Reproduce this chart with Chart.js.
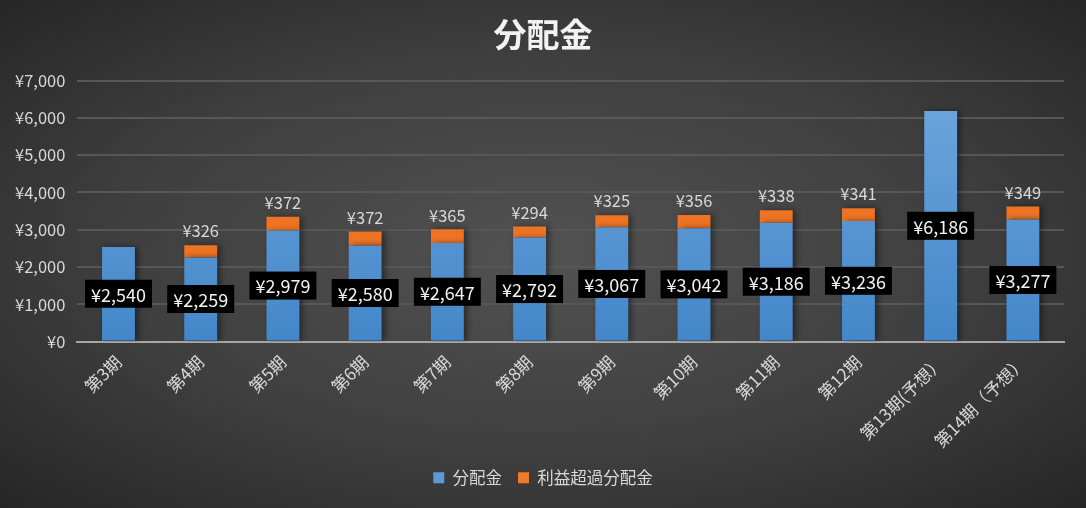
<!DOCTYPE html>
<html>
<head>
<meta charset="utf-8">
<script src="https://cdn.jsdelivr.net/npm/chart.js@4/dist/chart.umd.min.js"></script>
<style>
    html, body {
        margin: 0;
        padding: 0;
        width: 1086px;
        height: 508px;
        overflow: hidden;
    }
    body {
        background: radial-gradient(ellipse at 50% 50%, #525252 0%, #3f3f3f 55%, #262626 100%);
    }
    #wrap {
        position: relative;
        width: 1086px;
        height: 508px;
    }
</style>
</head>
<body>
<div id="wrap"><canvas id="distChart"></canvas></div>
<script>
// Chart data
const periods = ['第3期', '第4期', '第5期', '第6期', '第7期', '第8期', '第9期', '第10期', '第11期', '第12期', '第13期(予想）', '第14期（予想）'];
const distribution = [2540, 2259, 2979, 2580, 2647, 2792, 3067, 3042, 3186, 3236, 6186, 3277];
const excessDistribution = [null, 326, 372, 372, 365, 294, 325, 356, 338, 341, null, 349];
const yTicks = [0, 1000, 2000, 3000, 4000, 5000, 6000, 7000];

const FONT = '"Noto Sans CJK JP", "Noto Sans", sans-serif';
const TEXT = '#d9d9d9';

function yen(v) {
    return '¥' + Number(v).toLocaleString('en-US');
}

// vertical gradient across the chart area
function barGradient(top, bottom) {
    return function(context) {
        const chart = context.chart;
        const area = chart.chartArea;
        if (!area) return bottom;
        const g = chart.ctx.createLinearGradient(0, area.top, 0, area.bottom);
        g.addColorStop(0, top);
        g.addColorStop(1, bottom);
        return g;
    };
}

function orangeGradient(context) {
    const chart = context.chart;
    const el = context.element;
    if (!chart.chartArea || !el) return '#ee7424';
    const props = el.getProps(['y', 'base'], true);
    if (!isFinite(props.y) || !isFinite(props.base) || props.y === props.base) return '#ee7424';
    const g = chart.ctx.createLinearGradient(0, props.y, 0, props.base);
    g.addColorStop(0, '#f68b40');
    g.addColorStop(1, '#e96a17');
    return g;
}

// soft bar shadow
const barShadow = {
    id: 'barShadow',
    beforeDatasetDraw(chart) {
        const ctx = chart.ctx;
        ctx.save();
        ctx.shadowColor = 'rgba(0,0,0,0.45)';
        ctx.shadowBlur = 6;
        ctx.shadowOffsetX = 3;
        ctx.shadowOffsetY = 0;
    },
    afterDatasetDraw(chart) {
        chart.ctx.restore();
    }
};

// value labels
const valueLabels = {
    id: 'valueLabels',
    afterDatasetsDraw(chart) {
        const ctx = chart.ctx;
        ctx.save();
        ctx.textAlign = 'center';
        ctx.textBaseline = 'middle';

        // blue segment: black box in the middle of the bar
        const blue = chart.getDatasetMeta(0);
        ctx.font = '18px ' + FONT;
        blue.data.forEach(function(bar, i) {
            const v = distribution[i];
            if (v == null) return;
            const text = yen(v);
            const cy = (bar.y + bar.base) / 2;
            const w = ctx.measureText(text).width + 12;
            const h = 28;
            ctx.fillStyle = '#000000';
            ctx.fillRect(bar.x - w / 2, cy - h / 2, w, h);
            ctx.fillStyle = '#f2f2f2';
            ctx.fillText(text, bar.x, cy + 1);
        });

        // orange segment: text above the bar
        const orange = chart.getDatasetMeta(1);
        ctx.font = '16.5px ' + FONT;
        ctx.fillStyle = TEXT;
        orange.data.forEach(function(bar, i) {
            const v = excessDistribution[i];
            if (v == null) return;
            ctx.fillText(yen(v), bar.x, bar.y - 14);
        });
        ctx.restore();
    }
};

const distChart = new Chart(document.getElementById('distChart'), {
    type: 'bar',
    data: {
        labels: periods,
        datasets: [{
            label: '分配金',
            data: distribution,
            backgroundColor: barGradient('#70a7dd', '#4387c9'),
            categoryPercentage: 1,
            barPercentage: 0.4
        }, {
            label: '利益超過分配金',
            data: excessDistribution,
            backgroundColor: orangeGradient,
            categoryPercentage: 1,
            barPercentage: 0.4
        }]
    },
    options: {
        responsive: true,
        maintainAspectRatio: false,
        animation: false,
        layout: {
            padding: { left: 3, right: 3, top: 0, bottom: 12 }
        },
        plugins: {
            title: {
                display: true,
                text: '分配金',
                color: '#f2f2f2',
                font: { family: FONT, size: 33, weight: 'bold' },
                padding: { top: 15, bottom: 26 }
            },
            legend: {
                position: 'bottom',
                labels: {
                    color: TEXT,
                    font: { family: FONT, size: 16.5 },
                    boxWidth: 11,
                    boxHeight: 11,
                    padding: 16,
                    generateLabels(chart) {
                        return [
                            { text: '分配金', fillStyle: '#5a9bd5', strokeStyle: '#5a9bd5', lineWidth: 0, fontColor: TEXT, datasetIndex: 0 },
                            { text: '利益超過分配金', fillStyle: '#ef7a2a', strokeStyle: '#ef7a2a', lineWidth: 0, fontColor: TEXT, datasetIndex: 1 }
                        ];
                    }
                }
            },
            tooltip: { enabled: false }
        },
        scales: {
            x: {
                stacked: true,
                grid: { display: false },
                border: { display: true, color: '#a6a6a6', width: 2 },
                ticks: {
                    color: TEXT,
                    font: { family: FONT, size: 17 },
                    minRotation: 45,
                    maxRotation: 45,
                    padding: 2
                }
            },
            y: {
                stacked: true,
                min: yTicks[0],
                max: yTicks[yTicks.length - 1],
                afterBuildTicks(axis) {
                    axis.ticks = yTicks.map(function(v) { return { value: v }; });
                },
                grid: { color: '#575757', lineWidth: 2, drawTicks: false },
                border: { display: false },
                ticks: {
                    color: TEXT,
                    font: { family: FONT, size: 16.5 },
                    padding: 12,
                    callback: function(value) { return yen(value); }
                }
            },
            // empty right-hand spacer so the title and legend centre on the page
            spacer: {
                type: 'linear',
                position: 'right',
                grid: { display: false, drawTicks: false },
                border: { display: false },
                ticks: { display: false },
                afterFit(axis) {
                    axis.width = 19;
                }
            }
        }
    },
    plugins: [barShadow, valueLabels]
});
</script>
</body>
</html>
